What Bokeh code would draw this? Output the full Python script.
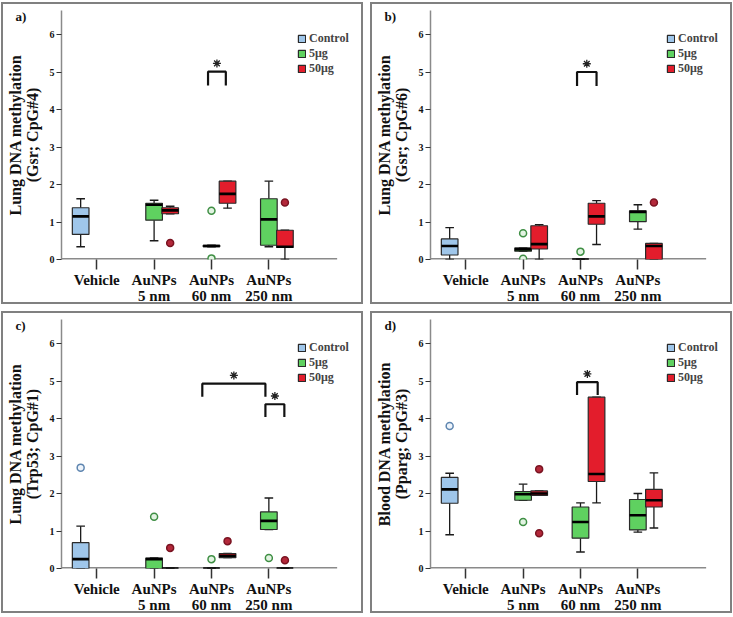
from bokeh.plotting import figure
from bokeh.models import FixedTicker, Legend, LegendItem, Range1d
from bokeh.layouts import column, row
from bokeh.embed import file_html
from bokeh.resources import INLINE

# ---------------- data ----------------
GROUPS = ["Vehicle", "AuNPs\n5 nm", "AuNPs\n60 nm", "AuNPs\n250 nm"]
SERIES = ["Control", "5μg", "50μg"]
# each box: category (1-based) and series index
BOX_GROUP = [1, 2, 2, 3, 3, 4, 4]
BOX_SERIES = [0, 1, 2, 1, 2, 1, 2]

# panel a) Lung, Gsr CpG#4
A_LOW = [0.34, 0.50, 1.22, 0.34, 1.37, 0.34, 0.00]
A_Q1 = [0.67, 1.05, 1.22, 0.34, 1.50, 0.38, 0.32]
A_MED = [1.15, 1.46, 1.31, 0.36, 1.75, 1.07, 0.34]
A_Q3 = [1.38, 1.50, 1.38, 0.38, 2.09, 1.62, 0.78]
A_HIGH = [1.62, 1.58, 1.42, 0.38, 2.09, 2.09, 0.78]
A_OUT_BOX = [2, 3, 3, 6]
A_OUT_VAL = [0.44, 1.30, 0.03, 1.52]

# panel b) Lung, Gsr CpG#6
B_LOW = [0.00, 0.22, 0.00, 0.00, 0.40, 0.81, 0.00]
B_Q1 = [0.12, 0.22, 0.28, 0.00, 0.94, 1.01, 0.00]
B_MED = [0.36, 0.27, 0.41, 0.00, 1.15, 1.27, 0.36]
B_Q3 = [0.55, 0.31, 0.90, 0.00, 1.50, 1.30, 0.43]
B_HIGH = [0.85, 0.31, 0.93, 0.00, 1.57, 1.46, 0.43]
B_OUT_BOX = [1, 1, 3, 6]
B_OUT_VAL = [0.70, 0.02, 0.21, 1.52]

# panel c) Lung, Trp53 CpG#1
C_LOW = [0.00, 0.00, 0.00, 0.00, 0.29, 1.04, 0.00]
C_Q1 = [0.00, 0.00, 0.00, 0.00, 0.29, 1.04, 0.00]
C_MED = [0.25, 0.25, 0.00, 0.00, 0.34, 1.27, 0.00]
C_Q3 = [0.69, 0.28, 0.00, 0.00, 0.40, 1.51, 0.00]
C_HIGH = [1.13, 0.28, 0.00, 0.00, 0.40, 1.88, 0.00]
C_OUT_BOX = [0, 1, 2, 3, 4, 5, 6]
C_OUT_VAL = [2.69, 1.38, 0.55, 0.25, 0.73, 0.28, 0.22]

# panel d) Blood, Pparg CpG#3
D_LOW = [0.90, 1.82, 1.95, 0.44, 1.75, 0.97, 1.08]
D_Q1 = [1.74, 1.82, 1.95, 0.81, 2.32, 1.03, 1.64]
D_MED = [2.11, 1.98, 2.00, 1.24, 2.52, 1.42, 1.82]
D_Q3 = [2.43, 2.05, 2.07, 1.64, 4.57, 1.84, 2.11]
D_HIGH = [2.54, 2.25, 2.07, 1.75, 4.57, 2.00, 2.55]
D_OUT_BOX = [0, 1, 2, 2]
D_OUT_VAL = [3.80, 1.24, 2.65, 0.94]

# significance brackets: x-left, x-right (category units), top, left leg end, right leg end
A_SIG = [[2.94, 3.25, 5.01, 4.64, 4.64]]
B_SIG = [[2.94, 3.28, 5.00, 4.63, 4.63]]
C_SIG = [[2.84, 3.94, 4.93, 4.58, 4.58], [3.94, 4.27, 4.38, 4.04, 4.04]]
D_SIG = [[2.94, 3.30, 4.97, 4.63, 4.63]]

YLABELS = ["Lung DNA methylation\n(Gsr; CpG#4)", "Lung DNA methylation\n(Gsr; CpG#6)",
           "Lung DNA methylation\n(Trp53; CpG#1)", "Blood DNA methylation\n(Pparg; CpG#3)"]
PANEL_TAGS = ["a)", "b)", "c)", "d)"]

# ---------------- styling / layout ----------------
FONT = "Liberation Serif"
FILL = ["#9fc6ea", "#5fd160", "#e31d2c"]
OUT_FILL = ["#eef4fb", "#e2f3e2", "#b3283a"]
OUT_LINE = ["#5f86b0", "#3f8f44", "#7a1422"]
OFFSET = [-0.28, 0.0, 0.28]
BOX_W = 0.29
CAP_W = 0.15
PW, PH = 362, 302          # outer panel size (border included)
X0, X1 = 0.386, 5.632
X_AXIS_END = 5.19
Y0, Y1 = 0.0, 6.64
AXIS_GREY = "#8a8a8a"


def make_panel(k, low, q1, med, q3, high, out_box, out_val, sig):
    p = figure(width=PW, height=PH, output_backend="svg", toolbar_location=None,
               x_range=Range1d(X0, X1), y_range=Range1d(Y0, Y1),
               min_border_left=56, min_border_right=3, min_border_top=6, min_border_bottom=43,
               styles={"border": "2px solid #808080"})
    p.xgrid.visible = False
    p.ygrid.visible = False
    p.outline_line_color = None

    # panel tag as a left-aligned title pulled into the top-left corner
    p.title.text = PANEL_TAGS[k]
    p.title.align = "left"
    p.title.offset = -46
    p.title.standoff = -26
    p.title.text_font = FONT
    p.title.text_font_style = "bold"
    p.title.text_font_size = "13px"
    p.title.text_color = "#111111"

    # x-axis baseline (stops short of the legend area)
    p.segment(x0=[X0], y0=[0], x1=[X_AXIS_END], y1=[0], line_color=AXIS_GREY, line_width=3)

    xs = [g + OFFSET[s] for g, s in zip(BOX_GROUP, BOX_SERIES)]
    # whiskers
    p.segment(x0=xs, y0=q3, x1=xs, y1=high, line_color="#1a1a1a", line_width=1.3)
    p.segment(x0=xs, y0=low, x1=xs, y1=q1, line_color="#1a1a1a", line_width=1.3)
    p.segment(x0=[x - CAP_W / 2 for x in xs], y0=high, x1=[x + CAP_W / 2 for x in xs], y1=high,
              line_color="#1a1a1a", line_width=1.3)
    p.segment(x0=[x - CAP_W / 2 for x in xs], y0=low, x1=[x + CAP_W / 2 for x in xs], y1=low,
              line_color="#1a1a1a", line_width=1.3)
    renderers = {}
    for s in range(3):
        idx = [i for i, ss in enumerate(BOX_SERIES) if ss == s]
        r = p.quad(left=[xs[i] - BOX_W / 2 for i in idx], right=[xs[i] + BOX_W / 2 for i in idx],
                   bottom=[q1[i] for i in idx], top=[q3[i] for i in idx],
                   fill_color=FILL[s], line_color="#2a2a2a", line_width=1.2)
        renderers[s] = r
    p.segment(x0=[x - BOX_W / 2 for x in xs], y0=med, x1=[x + BOX_W / 2 for x in xs], y1=med,
              line_color="black", line_width=2.6)
    # outliers
    ox = [xs[b] for b in out_box]
    ofill = [OUT_FILL[BOX_SERIES[b]] for b in out_box]
    oline = [OUT_LINE[BOX_SERIES[b]] for b in out_box]
    p.scatter(x=ox, y=out_val, size=7, fill_color=ofill, line_color=oline, line_width=1.5)

    # significance brackets with asterisks
    for xl, xr, top, ll, rl in sig:
        p.line(x=[xl, xl, xr, xr], y=[ll, top, top, rl], line_color="#111111", line_width=2.2)
        p.scatter(x=[(xl + xr) / 2], y=[top + 0.22], marker="asterisk", size=8,
                  line_color="#222222", line_width=1.3)

    # axes
    xa = p.xaxis[0]
    xa.ticker = FixedTicker(ticks=[1, 2, 3, 4])
    xa.major_label_overrides = {i + 1: g for i, g in enumerate(GROUPS)}
    xa.major_label_text_font = FONT
    xa.major_label_text_font_style = "bold"
    xa.major_label_text_font_size = "15px"
    xa.major_label_text_line_height = 1.0
    xa.major_label_text_color = "#111111"
    xa.major_label_standoff = 2
    xa.major_tick_out = 10
    xa.major_tick_in = 0
    xa.minor_tick_line_color = None
    xa.axis_line_color = None
    xa.major_tick_line_color = "#333333"
    xa.major_tick_line_width = 1.5

    ya = p.yaxis[0]
    ya.ticker = FixedTicker(ticks=[0, 1, 2, 3, 4, 5, 6])
    ya.major_label_text_font = FONT
    ya.major_label_text_font_style = "bold"
    ya.major_label_text_font_size = "10px"
    ya.major_label_text_color = "#111111"
    ya.major_label_standoff = 2
    ya.major_tick_out = 5
    ya.major_tick_in = 0
    ya.minor_tick_line_color = None
    ya.axis_line_color = AXIS_GREY
    ya.axis_line_width = 1.5
    ya.major_tick_line_color = "#333333"
    ya.axis_label = YLABELS[k]
    ya.axis_label_text_font = FONT
    ya.axis_label_text_font_style = "bold"
    ya.axis_label_text_font_size = "16px"
    ya.axis_label_text_line_height = 1.0
    ya.axis_label_text_color = "#111111"
    ya.axis_label_standoff = 6

    # legend
    items = [LegendItem(label=SERIES[s], renderers=[renderers[s]]) for s in range(3)]
    leg = Legend(items=items, location=(236, 183), glyph_width=9, glyph_height=9,
                 label_text_font=FONT, label_text_font_style="bold", label_text_font_size="12px",
                 label_text_line_height=0.85,
                 label_height=9, spacing=0, padding=0, margin=0, label_standoff=3,
                 background_fill_alpha=0, border_line_alpha=0)
    p.add_layout(leg)
    return p


pa = make_panel(0, A_LOW, A_Q1, A_MED, A_Q3, A_HIGH, A_OUT_BOX, A_OUT_VAL, A_SIG)
pb = make_panel(1, B_LOW, B_Q1, B_MED, B_Q3, B_HIGH, B_OUT_BOX, B_OUT_VAL, B_SIG)
pc = make_panel(2, C_LOW, C_Q1, C_MED, C_Q3, C_HIGH, C_OUT_BOX, C_OUT_VAL, C_SIG)
pd = make_panel(3, D_LOW, D_Q1, D_MED, D_Q3, D_HIGH, D_OUT_BOX, D_OUT_VAL, D_SIG)

layout = column(row(pa, pb, spacing=7), row(pc, pd, spacing=7), spacing=7,
                styles={"margin-left": "1px", "margin-top": "2px"})
open("out.html", "w").write(file_html(layout, INLINE))
